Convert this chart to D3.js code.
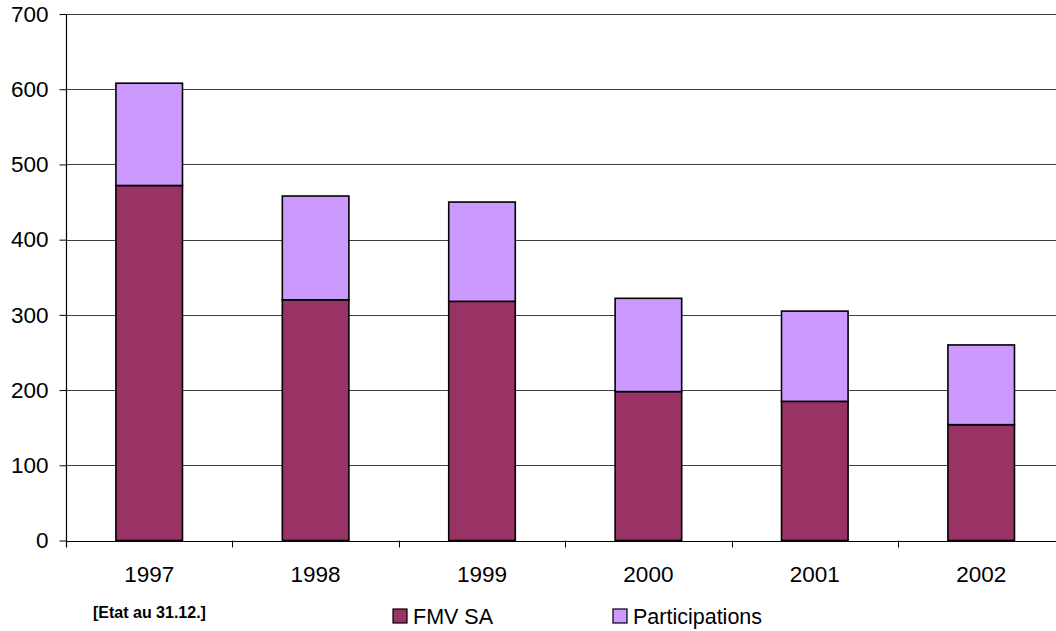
<!DOCTYPE html>
<html>
<head>
<meta charset="utf-8">
<script src="https://cdn.jsdelivr.net/npm/d3@7"></script>
<style>
  html, body { margin: 0; padding: 0; background: #fff; }
  svg { display: block; font-family: "Liberation Sans", Arial, sans-serif; }
</style>
</head>
<body>
<svg id="chart" width="1056" height="631"></svg>
<script>
// Data (values as of 31.12. of each year)
const years = ["1997", "1998", "1999", "2000", "2001", "2002"];
const fmvSA = [472, 320, 318, 198, 185, 154];
const participations = [136, 138, 132, 124, 120, 106];
const seriesNames = ["FMV SA", "Participations"];
const seriesColors = ["#993366", "#CC99FF"];
const yTicks = [0, 100, 200, 300, 400, 500, 600, 700];
const noteText = "[Etat au 31.12.]";

const svg = d3.select("#chart");

const left = 66, step = 166.4;
const x = d3.scaleBand()
  .domain(years)
  .range([left, left + step * years.length])
  .paddingInner(0.6)
  .paddingOuter(0.3);

const y = d3.scaleLinear().domain([0, 700]).range([540.5, 14]);

// Horizontal gridlines
svg.append("g")
  .selectAll("line")
  .data(yTicks.filter(d => d > 0))
  .join("line")
  .attr("x1", left).attr("x2", 1056)
  .attr("y1", d => Math.round(y(d)) + 0.5)
  .attr("y2", d => Math.round(y(d)) + 0.5)
  .attr("stroke", "#404040")
  .attr("stroke-width", 1);

// Stacked bars
const rows = years.map((yr, i) => ({ year: yr, FMV: fmvSA[i], Part: participations[i] }));
const stack = d3.stack().keys(["FMV", "Part"])(rows);

svg.append("g")
  .selectAll("g")
  .data(stack)
  .join("g")
  .attr("fill", (d, i) => seriesColors[i])
  .selectAll("rect")
  .data(d => d)
  .join("rect")
  .attr("x", d => x(d.data.year))
  .attr("width", x.bandwidth())
  .attr("y", d => y(d[1]))
  .attr("height", d => y(d[0]) - y(d[1]))
  .attr("stroke", "#000")
  .attr("stroke-width", 1.6);

// Y axis
const yAxis = d3.axisLeft(y).tickValues(yTicks).tickSize(7).tickPadding(11).tickSizeOuter(0);
const gy = svg.append("g").attr("transform", `translate(${left + 0.5},0)`).call(yAxis);
gy.select(".domain").remove();
gy.append("line")
  .attr("x1", 0).attr("x2", 0)
  .attr("y1", y(700)).attr("y2", y(0) + 7)
  .attr("stroke", "#000").attr("stroke-width", 1.2);
gy.selectAll(".tick line").attr("stroke", "#000");
gy.selectAll("text")
  .attr("font-size", "22.5px")
  .attr("fill", "#000")
  .attr("font-family", "Liberation Sans, Arial, sans-serif");

// X axis line with category boundary ticks
const gx = svg.append("g");
gx.append("line")
  .attr("x1", left).attr("x2", 1056)
  .attr("y1", Math.round(y(0)) + 0.5).attr("y2", Math.round(y(0)) + 0.5)
  .attr("stroke", "#000").attr("stroke-width", 1.2);
gx.selectAll("line.b")
  .data(d3.range(1, years.length))
  .join("line")
  .attr("class", "b")
  .attr("x1", i => Math.round(left + i * x.step()) + 0.5)
  .attr("x2", i => Math.round(left + i * x.step()) + 0.5)
  .attr("y1", y(0)).attr("y2", y(0) + 7)
  .attr("stroke", "#000");
gx.selectAll("text")
  .data(years)
  .join("text")
  .attr("x", d => x(d) + x.bandwidth() / 2)
  .attr("y", 582)
  .attr("text-anchor", "middle")
  .attr("font-size", "22.5px")
  .attr("fill", "#000")
  .text(d => d);

// Note
svg.append("text")
  .attr("x", 93).attr("y", 618)
  .attr("font-size", "16px")
  .attr("font-weight", "bold")
  .attr("fill", "#000")
  .text(noteText);

// Legend
const legendX = [393, 613];
const lg = svg.append("g").selectAll("g")
  .data(seriesNames)
  .join("g")
  .attr("transform", (d, i) => `translate(${legendX[i]},609)`);
lg.append("rect")
  .attr("width", 14).attr("height", 14)
  .attr("fill", (d, i) => seriesColors[i])
  .attr("stroke", "#000").attr("stroke-width", 1.2);
lg.append("text")
  .attr("x", 20).attr("y", 14.5)
  .attr("font-size", "21.5px")
  .attr("fill", "#000")
  .text(d => d);
</script>
</body>
</html>
